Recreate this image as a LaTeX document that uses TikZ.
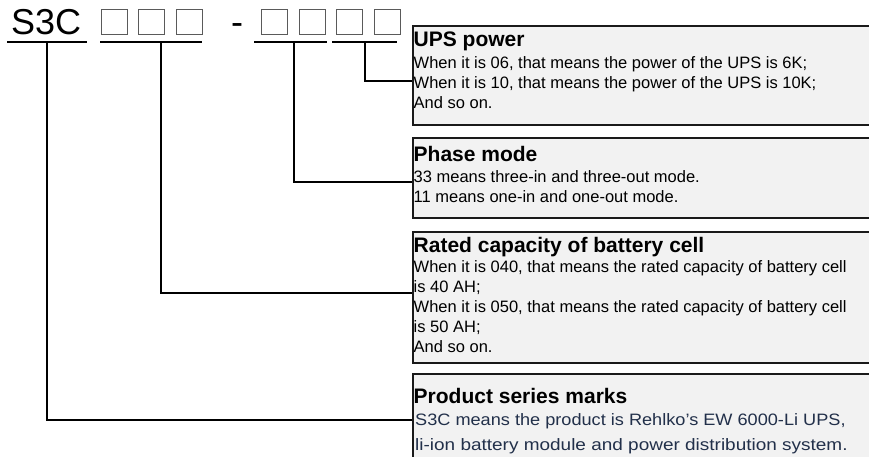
\documentclass[tikz,border=0pt]{standalone}
\usepackage{fontspec}
\setmainfont{Liberation Sans}
\usepackage{xcolor}
\usetikzlibrary{positioning, calc}
\definecolor{boxfill}{HTML}{F2F2F2}
\definecolor{boxline}{HTML}{1A1A1A}
\definecolor{sqline}{HTML}{5A5A5A}
\definecolor{navytext}{HTML}{22304A}
\tikzset{
  codetext/.style={inner sep=0pt, anchor=base west, font=\fontsize{36}{36}\selectfont},
  sq/.style={rectangle, draw=sqline, line width=1pt, minimum width=26pt, minimum height=25pt, inner sep=0pt},
  uline/.style={line width=1.6pt},
  link/.style={line width=1.6pt},
  box/.style={rectangle, draw=boxline, fill=boxfill, line width=1.6pt, anchor=north west, minimum width=520pt, inner sep=0pt},
  boxtitle/.style={inner sep=0pt, anchor=base west, font=\fontsize{21}{21}\selectfont\bfseries},
  boxbody/.style={inner sep=0pt, anchor=north west, align=left, font=\fontsize{16.5}{20}\selectfont},
}

\begin{document}
\begin{tikzpicture}[x=1pt, y=1pt]
\useasboundingbox (0,0) rectangle (869,-457);
\clip (0,0) rectangle (869,-457);

% model code
\node[codetext] (s3c) at (11,-35) {S3C};
\node[codetext] (dash) at (231,-35) {-};
\foreach \i in {1,2,3} \node[sq] (a\i) at (76.5+37.5*\i,-22) {};
\foreach \i in {1,...,4} \node[sq] (b\i) at (237+37.5*\i,-22) {};

% underlines and taps
\coordinate (uS1) at (7,-42);   \coordinate (uS2) at (87,-42);
\coordinate (uA1) at (100,-42); \coordinate (uA2) at (202,-42);
\coordinate (uB1) at (254,-42); \coordinate (uB2) at (327,-42);
\coordinate (uC1) at (332,-42); \coordinate (uC2) at (397,-42);
\coordinate (tS) at (47,-42);  \coordinate (tA) at (161,-42);
\coordinate (tB) at (294,-42); \coordinate (tC) at (365,-42);
\draw[uline] (uS1)--(uS2); \draw[uline] (uA1)--(uA2);
\draw[uline] (uB1)--(uB2); \draw[uline] (uC1)--(uC2);

% boxes
\node[box, minimum height=99pt] (ups) at (412,-25) {};
\node[box, minimum height=80pt] (phase) at (412,-137) {};
\node[box, minimum height=131pt] (cap) at (412,-231) {};
\node[box, minimum height=110pt] (series) at (412,-373) {};

\node[boxtitle] (upsT) at ($(ups.north west)+(1.5,-22)$) {UPS power};
\node[boxbody] (upsB) at ($(ups.north west)+(1.5,-31)$) {When it is 06, that means the power of the UPS is 6K;\\When it is 10, that means the power of the UPS is 10K;\\And so on.};

\node[boxtitle] (phaseT) at ($(phase.north west)+(1.5,-24)$) {Phase mode};
\node[boxbody] (phaseB) at ($(phase.north west)+(1.5,-33)$) {33 means three-in and three-out mode.\\11 means one-in and one-out mode.};

\node[boxtitle] (capT) at ($(cap.north west)+(1.5,-21)$) {Rated capacity of battery cell};
\node[boxbody] (capB) at ($(cap.north west)+(1.5,-29)$) {When it is 040, that means the rated capacity of battery cell\\is 40 AH;\\When it is 050, that means the rated capacity of battery cell\\is 50 AH;\\And so on.};

\node[boxtitle] (seriesT) at ($(series.north west)+(1.5,-30)$) {Product series marks};
\node[boxbody, font=\fontsize{16.5}{25}\selectfont, text=navytext] (seriesB) at ($(series.north west)+(3,-40)$) {{\addfontfeature{FakeStretch=1.1}S3C means the product is Rehlko’s EW 6000-Li UPS,}\\{\addfontfeature{FakeStretch=1.15}li-ion battery module and power distribution system.}};

% connectors
\draw[link] (tC) |- ($(ups.north west)+(0,-56)$);
\draw[link] (tB) |- ($(phase.north west)+(0,-45)$);
\draw[link] (tA) |- ($(cap.north west)+(0,-62)$);
\draw[link] (tS) |- ($(series.north west)+(0,-47)$);
\end{tikzpicture}
\end{document}
